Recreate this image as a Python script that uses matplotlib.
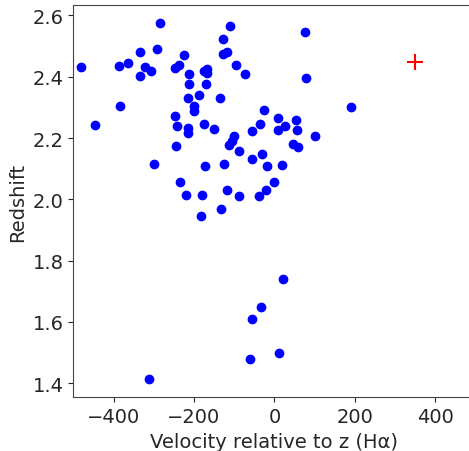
import numpy as np
import matplotlib.pyplot as plt

# velocity offsets (km/s) and redshifts
velocity = [
    -481, -445, -386, -364, -335, -335, -323, -306, -293, -284,
    -383, -299, -311, -248, -243, -245, -246, -237, -224, -212,
    -212, -215, -214, -214, -200, -200, -188, -176, -176, -167,
    -167, -170, -173, -236, -219, -180, -183, -150, -135, -129,
    -111, -129, -119, -96, -72, -125, -113, -106, -101, -87,
    -57, -57, -119, -132, -89, -39, -21, 0, -30, -18,
    18, -27, -36, 9, 9, 27, 54, 57, 47, 58,
    102, 191, 75, 79, 21, -33, -57, -60, 12,
]
redshift = [
    2.431, 2.243, 2.436, 2.444, 2.482, 2.404, 2.431, 2.419, 2.490, 2.577,
    2.305, 2.114, 1.412, 2.271, 2.240, 2.173, 2.428, 2.440, 2.471, 2.409,
    2.376, 2.330, 2.233, 2.216, 2.306, 2.287, 2.341, 2.247, 2.420, 2.424,
    2.412, 2.376, 2.109, 2.055, 2.015, 2.015, 1.945, 2.231, 2.330, 2.522,
    2.566, 2.474, 2.482, 2.440, 2.409, 2.114, 2.177, 2.190, 2.208, 2.157,
    2.223, 2.133, 2.030, 1.968, 2.012, 2.012, 2.031, 2.058, 2.149, 2.109,
    2.113, 2.291, 2.247, 2.266, 2.227, 2.239, 2.259, 2.227, 2.182, 2.171,
    2.208, 2.302, 2.545, 2.396, 1.741, 1.647, 1.608, 1.479, 1.498,
]

# reference object
ref_velocity = [350]
ref_redshift = [2.448]

text_color = "#262626"
plt.rcParams["font.size"] = 14
plt.rcParams["text.color"] = text_color
plt.rcParams["axes.labelcolor"] = text_color
plt.rcParams["xtick.color"] = text_color
plt.rcParams["ytick.color"] = text_color

fig = plt.figure(figsize=(4.69, 4.52), dpi=100)
ax = fig.add_axes([0.1563, 0.1188, 0.8578, 0.8686])

ax.plot(velocity, redshift, "o", color="blue", markersize=6)
ax.plot(ref_velocity, ref_redshift, "+", color="red", markersize=12, markeredgewidth=1.5)

ax.set_xlim(-500, 500)
ax.set_xlabel("Velocity relative to z (H\u03b1)")
ax.set_ylabel("Redshift")

for side in ax.spines.values():
    side.set_color("#444444")

fig.savefig("out.png", dpi=100)
